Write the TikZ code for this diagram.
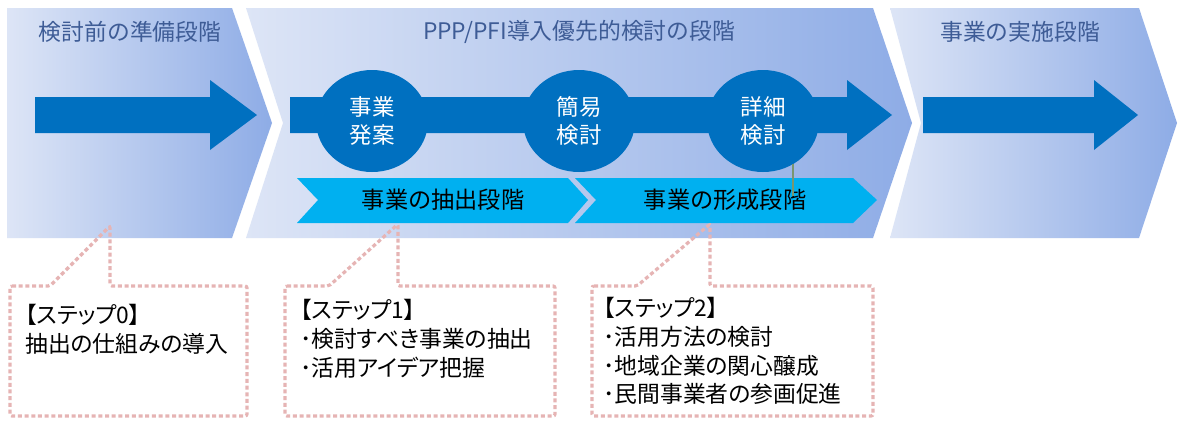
\documentclass[tikz,border=0pt]{standalone}
\usepackage{fontspec}
\setmainfont{Noto Sans CJK JP}
\newfontfamily\boxfont[RawFeature=+palt]{Noto Sans CJK JP}
\usetikzlibrary{shapes.geometric}
\definecolor{chevL}{RGB}{221,229,246}
\definecolor{chevR}{RGB}{142,172,230}
\definecolor{arrowblue}{RGB}{0,112,192}
\definecolor{bandcyan}{RGB}{0,176,240}
\definecolor{titleblue}{RGB}{62,92,150}
\definecolor{dotpink}{RGB}{230,180,180}
\definecolor{stemgreen}{RGB}{122,150,112}
\begin{document}
\begin{tikzpicture}[x=1pt,y=-1pt,
  chev/.style={left color=chevL,right color=chevR,draw=none},
  bigarrow/.style={fill=arrowblue,draw=none},
  band/.style={fill=bandcyan,draw=none},
  stagecircle/.style={ellipse,fill=arrowblue,draw=none,minimum width=112pt,minimum height=102pt,inner sep=0pt,text=white,align=center,font=\fontsize{22.5}{28.5}\selectfont},
  title/.style={text=titleblue,inner sep=0pt,font=\fontsize{22.8}{26}\selectfont},
  bandtext/.style={text=black,inner sep=0pt,font=\fontsize{23.2}{26}\selectfont},
  callout/.style={draw=dotpink,line width=3.2pt,dash pattern=on 4pt off 2.7pt,rounded corners=2pt},
  boxtext/.style={text=black,inner sep=0pt,anchor=west,align=left,font=\boxfont\fontsize{22.8}{28.7}\selectfont},
  stem/.style={draw=stemgreen,line width=2.5pt}
]
\useasboundingbox (0,0) rectangle (1182,421);
\fill[white] (0,0) rectangle (1182,421);

% stage chevrons
\path[chev] (7,8) -- (232,8) -- (272,123) -- (232,238) -- (7,238) -- cycle;
\path[chev] (246,8) -- (873,8) -- (912,123) -- (873,238) -- (246,238) -- (283,123) -- cycle;
\path[chev] (890,8) -- (1139,8) -- (1177,123) -- (1139,238) -- (890,238) -- (921,123) -- cycle;

% titles
\node[title] (t1) at (130,32) {検討前の準備段階};
\node[title] (t2) at (579,32) {PPP/PFI導入優先的検討の段階};
\node[title] (t3) at (1020,32) {事業の実施段階};

% big arrows
\path[bigarrow] (35,97) -- (210,97) -- (210,80) -- (257,115) -- (210,150) -- (210,133) -- (35,133) -- cycle;
\path[bigarrow] (290,97) -- (847,97) -- (847,80) -- (892,115) -- (847,150) -- (847,133) -- (290,133) -- cycle;
\path[bigarrow] (923,97) -- (1094,97) -- (1094,80) -- (1138,115) -- (1094,150) -- (1094,133) -- (923,133) -- cycle;

% circles
\node[stagecircle] (c1) at (372,121) {事業\\発案};
\node[stagecircle] (c2) at (579,121) {簡易\\検討};
\node[stagecircle] (c3) at (763,121) {詳細\\検討};

% bands
\path[band] (297,178) -- (568,178) -- (588,200) -- (568,223) -- (297,223) -- (318,200) -- cycle;
\path[band] (575,178) -- (853,178) -- (877,200) -- (853,223) -- (575,223) -- (596,200) -- cycle;
\node[bandtext] (b1) at (443,200) {事業の抽出段階};
\node[bandtext] (b2) at (725,200) {事業の形成段階};

\draw[stem] (c3.-55) -- ++(0,32);

% callouts
\draw[callout] (10,286) -- (50,286) -- (110,226) -- (110,286) -- (247,286) -- (247,416) -- (10,416) -- cycle;
\draw[callout] (285,286) -- (329,286) -- (398,224) -- (398,286) -- (555,286) -- (555,416) -- (285,416) -- cycle;
\draw[callout] (592,286) -- (637,286) -- (710,224) -- (710,286) -- (873,286) -- (873,416) -- (592,416) -- cycle;

\node[boxtext] (s0) at (25,329) {【ステップ0】\\抽出の仕組みの導入};
\node[boxtext] (s1) at (300,339) {【ステップ1】\\･検討すべき事業の抽出\\･活用アイデア把握};
\node[boxtext] (s2) at (603,351) {【ステップ2】\\･活用方法の検討\\･地域企業の関心醸成\\･民間事業者の参画促進};
\end{tikzpicture}
\end{document}
